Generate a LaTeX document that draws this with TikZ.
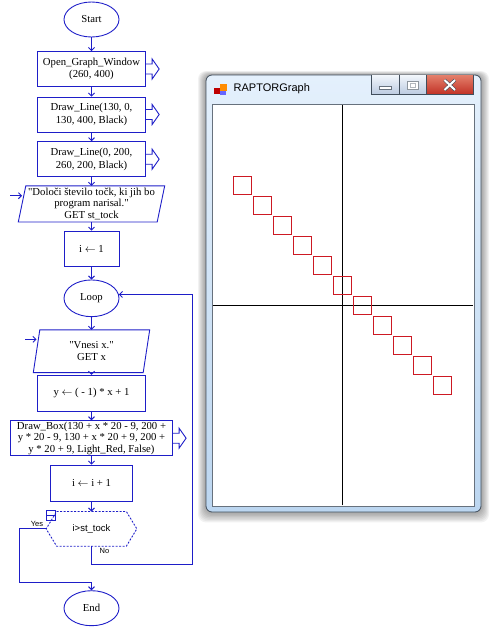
\documentclass[tikz,border=0pt]{standalone}
\usepackage{fontspec}
\setmainfont{Liberation Serif}
\newfontfamily\sansfont{Liberation Sans}
\usetikzlibrary{calc,shapes.geometric,arrows.meta}
\definecolor{flowblue}{RGB}{30,30,200}
\definecolor{boxred}{RGB}{205,25,35}
\definecolor{framedark}{RGB}{65,78,92}
\definecolor{framelight}{RGB}{188,214,240}
\definecolor{titletop}{RGB}{228,240,252}
\definecolor{btntop}{RGB}{242,246,251}
\definecolor{btnbot}{RGB}{186,202,224}
\definecolor{closetop}{RGB}{228,128,108}
\definecolor{closebot}{RGB}{192,48,36}
\def\dq{\XeTeXglyph\XeTeXcharglyph34\relax}
\def\outarrow(#1){\draw[flow] ($(#1)+(0,-5)$) -- ++(6,0) -- ++(0,-5) -- ++(7,10) -- ++(-7,10) -- ++(0,-5) -- ++(-6,0);}
\def\getbox(#1:#2){\draw[flow] ($(#1.north west)+(#2,0)$) -- ($(#1.north east)+(#2,0)$) -- ($(#1.south east)-(#2,0)$) -- ($(#1.south west)-(#2,0)$) -- cycle;}
\def\condbox(#1:#2){\draw[flow,dash pattern=on 2pt off 1.5pt] (#1.north west) -- (#1.north east) -- ($(#1.east)+(#2,0)$) -- (#1.south east) -- (#1.south west) -- ($(#1.west)-(#2,0)$) -- cycle;}

\begin{document}
\begin{tikzpicture}[x=1pt,y=-1pt,
	flow/.style={draw=flowblue,line width=0.9pt},
	link/.style={flow,-{Straight Barb[length=3pt,width=6pt]}},
	txt/.style={font=\fontsize{10.7}{12.5}\selectfont,align=center,inner sep=1pt},
	box/.style={rectangle,flow,txt,minimum height=35},
	term/.style={ellipse,flow,txt,minimum width=55,minimum height=35},
	getnode/.style={rectangle,txt,inner sep=0pt},
	lbl/.style={font=\sansfont\fontsize{7.5}{9}\selectfont,inner sep=0pt}]
			\useasboundingbox (0,0) rectangle (493,634);
			
			%%%%% FLOWCHART %%%%%
			
			\node[term] (start) at (91.5,19.5) {Start};
			\node[box,minimum width=108.4] (open) at (91.5,69) {Open\_Graph\_Window\\(260, 400)};
			\node[box,minimum width=108.4] (line1) at (91.5,114.5) {Draw\_Line(130, 0,\\130, 400, Black)};
			\node[box,minimum width=108.4] (line2) at (91.5,159.2) {Draw\_Line(0, 200,\\260, 200, Black)};
			\node[getnode,minimum width=138.5,minimum height=35.7,font=\fontsize{10.7}{11.8}\selectfont] (get1) at (91.5,203.9) {\dq Določi število točk, ki jih bo\\program narisal.\dq\\GET st\_tock};
			\node[box,minimum width=55,minimum height=35.7] (i1) at (91.5,249) {i $\leftarrow$ 1};
			\node[term,minimum height=36.7] (loop) at (91.5,298.3) {Loop};
			\node[getnode,minimum width=109.5,minimum height=42.3] (get2) at (91.5,351.2) {\dq Vnesi x.\dq\\GET x};
			\node[box,minimum width=108.4,minimum height=36] (yset) at (91.5,393.3) {y $\leftarrow$ ( - 1) * x + 1};
			\node[box,minimum width=162.3,inner sep=0pt,font=\fontsize{10.7}{11.6}\selectfont] (dbox) at (91.5,438.2) {Draw\_Box(130 + x * 20 - 9, 200 +\\y * 20 - 9, 130 + x * 20 + 9, 200 +\\y * 20 + 9,  Light\_Red, False)};
			\node[box,minimum width=81.7,minimum height=36] (inc) at (91.5,483) {i $\leftarrow$ i + 1};
			\node[rectangle,minimum width=69.3,minimum height=34.3,inner sep=0pt,font=\sansfont\fontsize{9.5}{11}\selectfont] (cond) at (91.5,528.85) {i>st\_tock};
			\node[term] (stop) at (91.5,608.2) {End};
			
			\getbox(get1:3.75)
			\getbox(get2:3.25)
			\condbox(cond:10.5)
			\outarrow(open.east)
			\outarrow(line1.east)
			\outarrow(line2.east)
			\outarrow(dbox.east)
			
			\draw[flow,line width=0.7pt] (46,510.7) rectangle (55,520);
			\draw[flow,line width=0.7pt] (46,515.3) -- (55,515.3);
			
			\draw[link] (start.south) -- (open.north);
			\draw[link] (open.south) -- (line1.north);
			\draw[link] (line1.south) -- (line2.north);
			\draw[link] (line2.south) -- (get1.north);
			\draw[link] (get1.south) -- (i1.north);
			\draw[link] (i1.south) -- (loop.north);
			\draw[link] (loop.south) -- (get2.north);
			\draw[link] (get2.south) -- (yset.north);
			\draw[link] (yset.south) -- (dbox.north);
			\draw[link] (dbox.south) -- (inc.north);
			\draw[link] (inc.south) -- (cond.north);
			
			\coordinate (in1) at (10,195.7);
			\coordinate (in2) at (25,339.3);
			\draw[link] (in1) -- (in1 -| get1.west);
			\draw[link] (in2) -- (in2 -| get2.west);
			
			\coordinate (condL) at ($(cond.west)-(10.5,0)$);
			\coordinate (yes) at (19.3,582.3);
			\coordinate (back) at (192.7,564);
			\draw[link] (condL) -| (yes) -| (stop.north);
			\draw[link] (cond.south) |- (back) |- (loop.8);
			\node[lbl] (yeslbl) at (37,523.5) {Yes};
			\node[lbl] (nolbl) at (104.5,551) {No};
			
			%%%%% RAPTORGraph WINDOW %%%%%
			
			\foreach \s in {1,...,8}
				\fill[black,opacity=0.05,rounded corners=8] (206-\s,75-0.5*\s) rectangle (481+\s,512+1.3*\s);
			\shade[top color=titletop,bottom color=framelight,rounded corners=6] (206,75) rectangle (481,512);
			\draw[framedark,line width=0.8pt,rounded corners=6] (206,75) rectangle (481,512);
			\fill[white] (212,104) rectangle (474,506);
			\draw[framedark!80,line width=0.6pt] (212,104) rectangle (474,506);
			
			% title bar
			\fill[red!75!black] (214,88) rectangle (219.5,94);
			\fill[orange!90!yellow] (219.5,84) rectangle (226.5,90.5);
			\fill[blue!60] (219.5,90.5) rectangle (226,95);
			\node[anchor=west,inner sep=0pt,font=\sansfont\fontsize{11}{13}\selectfont] (title) at (233.5,89) {RAPTORGraph};
			
			\shade[top color=btntop,bottom color=btnbot] (371.7,75) rectangle (426,94.7);
			\shade[top color=closetop,bottom color=closebot] (426,75) rectangle (473.3,94.7);
			\draw[framedark,line width=0.6pt] (371.7,75) -- (371.7,94.7) -- (473.3,94.7) -- (473.3,75);
			\draw[framedark,line width=0.6pt] (399.3,75) -- (399.3,94.7);
			\draw[framedark,line width=0.6pt] (426,75) -- (426,94.7);
			\draw[fill=white,draw=framedark!80,line width=0.5pt] (379.5,86) rectangle (391.5,89);
			\draw[fill=white,draw=framedark!60,line width=0.5pt] (407.5,81) rectangle (418,89.5);
			\draw[draw=framedark!40,line width=0.5pt] (410,83.5) rectangle (415.5,87);
			\draw[framedark,line width=3.2pt] (444.5,80) -- (455,90) (455,80) -- (444.5,90);
			\draw[white,line width=2pt] (444.5,80) -- (455,90) (455,80) -- (444.5,90);
			
			% graph: Draw_Line and Draw_Box in RAPTOR coordinates
			\begin{scope}[shift={(212.7,505.3)},yscale=-1]
				\draw[black,line width=0.8pt] (130,0) -- (130,400);
				\draw[black,line width=0.8pt] (0,200) -- (260,200);
				\foreach \x in {-5,...,5}
					\draw[boxred,line width=0.9pt] ({130+\x*20-9},{200+(1-\x)*20-9}) rectangle ({130+\x*20+9},{200+(1-\x)*20+9});
			\end{scope}
			
			%%%%% END %%%%%
\end{tikzpicture}
\end{document}
